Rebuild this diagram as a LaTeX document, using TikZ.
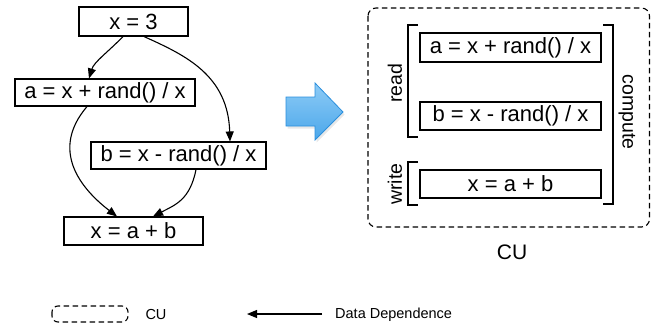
\documentclass[tikz,border=0pt]{standalone}
\usepackage{fontspec}
\setmainfont{Liberation Sans}
\usetikzlibrary{arrows.meta,calc}
\definecolor{arrtop}{HTML}{8DCBF6}
\definecolor{arrbot}{HTML}{4BA7EA}
\definecolor{arredge}{HTML}{2A8FDD}
\begin{document}
\begin{tikzpicture}[x=1pt,y=-1pt,
  stmt/.style={draw,line width=1.1pt,inner sep=0pt,minimum height=27pt,font=\fontsize{22}{26}\selectfont},
  dep/.style={line width=1.1pt,-{Triangle[length=10pt,width=8pt]}},
  small/.style={inner sep=0pt,font=\fontsize{19.5}{22}\selectfont},
  legend/.style={inner sep=0pt,font=\fontsize{14.5}{17}\selectfont},
  cubox/.style={draw,line width=1.1pt,dash pattern=on 5.5pt off 3.5pt,rounded corners=8pt},
  brack/.style={line width=1.1pt}]
\useasboundingbox (0,0) rectangle (651,333);
% left graph
\node[stmt,minimum width=109pt,minimum height=29pt] (x3) at (133.5,21.5) {x = 3};
\node[stmt,minimum width=180pt] (a) at (105,92.5) {a = x + rand() / x};
\node[stmt,minimum width=175pt] (b) at (178.5,155.5) {b = x - rand() / x};
\node[stmt,minimum width=139pt,minimum height=28pt] (xab) at (133.5,231) {x = a + b};
\draw[dep] ([xshift=-10.5pt]x3.south) .. controls (108,52) and (94,62) .. ([xshift=-16pt]a.north);
\draw[dep] ([xshift=10.5pt]x3.south) .. controls (185,55) and (228,75) .. ([xshift=51.5pt]b.north);
\draw[dep] ([xshift=-18pt]a.south) .. controls (50,150) and (80,188) .. ([xshift=-16.5pt]xab.north);
\draw[dep] ([xshift=17.5pt]b.south) .. controls (190,200) and (175,205) .. ([xshift=19.5pt]xab.north);
% blue arrow
\fill[black!20,opacity=0.45] (287.5,99.5) -- (316.5,99.5) -- (316.5,85.5) -- (344.5,114.5) -- (316.5,142.5) -- (316.5,128.5) -- (287.5,128.5) -- cycle;
\shade[top color=arrtop,bottom color=arrbot,draw=arredge,line width=0.8pt]
  (286,97) -- (315,97) -- (315,83) -- (343,112) -- (315,140) -- (315,126) -- (286,126) -- cycle;
% CU box
\draw[cubox] (368,8) rectangle (649.5,227);
\node[stmt,minimum width=181pt,minimum height=29pt] (ra) at (510.5,47.5) {a = x + rand() / x};
\node[stmt,minimum width=181pt,minimum height=28pt] (rb) at (510.5,116) {b = x - rand() / x};
\node[stmt,minimum width=181pt,minimum height=28pt] (rx) at (510.5,184) {x = a + b};
\draw[brack] (418,25) -- (408,25) -- (408,137) -- (418,137);
\draw[brack] (418,162) -- (408,162) -- (408,205) -- (418,205);
\draw[brack] (603,25) -- (613,25) -- (613,204) -- (603,204);
\node[small,rotate=90] (read) at (395,83) {read};
\node[small,rotate=90] (write) at (395,184) {write};
\node[small,rotate=-90] (compute) at (627,112) {compute};
\node[inner sep=0pt,font=\fontsize{21}{24}\selectfont] (cu) at (512,252) {CU};
% legend
\draw[cubox,rounded corners=6pt] (52,306) rectangle (128,322);
\node[legend] (lcu) at (156,315) {CU};
\coordinate (lfrom) at (322,314);
\coordinate (lto) at (247,314);
\draw[dep] (lfrom) -- (lto);
\node[legend,anchor=west] (ldd) at (335,315) {Data Dependence};
\end{tikzpicture}
\end{document}
